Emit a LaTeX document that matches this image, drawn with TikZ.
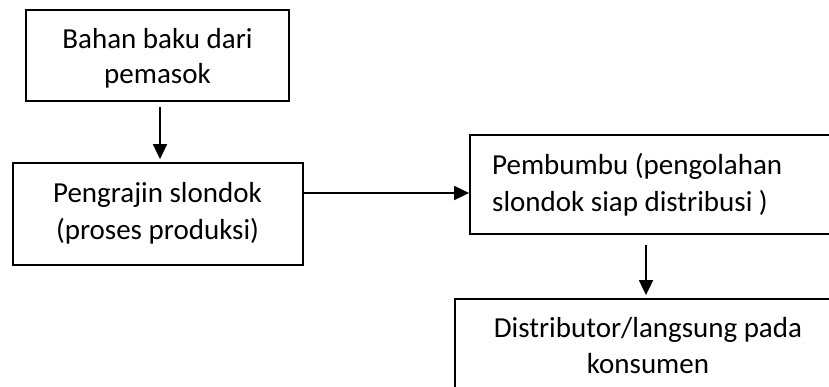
\documentclass[tikz,border=0pt]{standalone}
\usepackage{fontspec}
\setmainfont{Carlito}
\usetikzlibrary{arrows.meta}
\begin{document}
\begin{tikzpicture}[x=1pt,y=-1pt,
  boxst/.style={draw,line width=1.8pt,rectangle,inner sep=0pt},
  txt/.style={anchor=base,inner sep=0pt,font=\fontsize{29}{36}\selectfont},
  arr/.style={line width=1.8pt,-{Triangle[length=15pt,width=14pt]}}]
\useasboundingbox (0,0) rectangle (829,387);
\clip (0,0) rectangle (829,387);
\node[boxst,minimum width=263pt,minimum height=91pt] (b1) at (157.5,55.5) {};
\node[boxst,minimum width=290pt,minimum height=102pt] (b2) at (158,214) {};
\node[boxst,minimum width=380pt,minimum height=99pt] (b3) at (660,184.5) {};
\node[boxst,minimum width=386pt,minimum height=122pt] (b4) at (648,360) {};
\node[txt] (t1a) at (157.5,49) {Bahan baku dari};
\node[txt] (t1b) at (157.5,84) {pemasok};
\node[txt] (t2a) at (157.5,203) {Pengrajin slondok};
\node[txt] (t2b) at (157.5,240) {(proses produksi)};
\node[txt,anchor=base west] (t3a) at (492,175) {Pembumbu (pengolahan};
\node[txt,anchor=base west] (t3b) at (492,212) {slondok siap distribusi )};
\node[txt] (t4a) at (648,337) {Distributor/langsung pada};
\node[txt] (t4b) at (648,373) {konsumen};
\coordinate (x1) at (160,0);
\coordinate (y2) at (0,193);
\coordinate (x3) at (646,0);
\draw[arr,shorten <=5pt,shorten >=3pt] (b1.south -| x1) -- (b2.north -| x1);
\draw[arr,shorten >=0pt] (b2.east |- y2) -- (b3.west |- y2);
\draw[arr,shorten <=10pt,shorten >=3pt] (b3.south -| x3) -- (b4.north -| x3);
\end{tikzpicture}
\end{document}
